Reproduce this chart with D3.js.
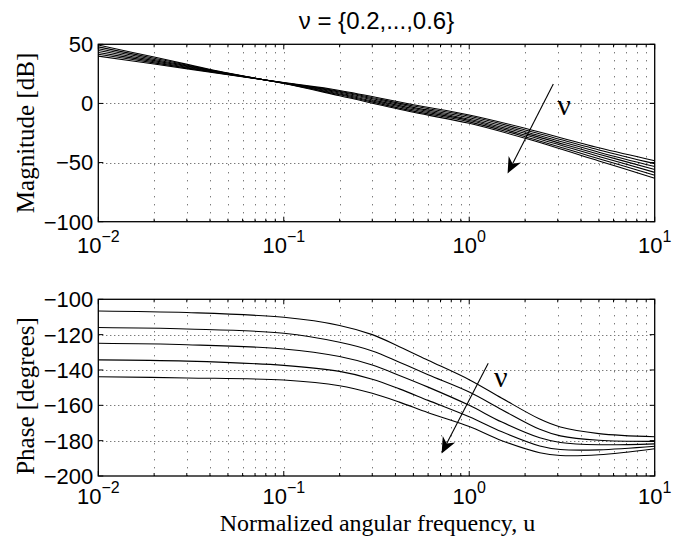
<!DOCTYPE html>
<html><head><meta charset="utf-8">
<script src="https://cdn.jsdelivr.net/npm/d3@7"></script>
<style>body{margin:0;background:#fff}</style>
</head><body>
<script>
// ---------- data ----------
const titleText = "ν = {0.2,...,0.6}";
const xTickExponents = [-2, -1, 0, 1];
const magTicks = [-100, -50, 0, 50];
const phaseTicks = [-200, -180, -160, -140, -120, -100];

const magFreq = [0.01, 0.02, 0.05, 0.1, 0.2, 0.5, 1, 2, 5, 10];
const mag1 = [40.0, 33.3, 24.3, 17.6, 11.0, -1.1, -9.8, -21.0, -37.5, -48.4];
const mag2 = [41.6, 34.3, 24.6, 17.5, 10.3, -2.2, -10.9, -22.4, -39.3, -50.9];
const mag3 = [43.1, 35.3, 24.8, 17.4, 9.6, -3.3, -12.1, -23.9, -41.2, -53.4];
const mag4 = [44.7, 36.2, 25.0, 17.3, 8.8, -4.3, -13.3, -25.3, -43.0, -55.8];
const mag5 = [46.3, 37.2, 25.2, 17.1, 8.0, -5.4, -14.4, -26.7, -44.8, -58.3];
const mag6 = [47.8, 38.2, 25.4, 17.0, 7.3, -6.5, -15.6, -28.1, -46.7, -60.8];
const mag7 = [49.4, 39.2, 25.6, 16.8, 6.5, -7.5, -16.8, -29.5, -48.6, -63.3];

const phaseFreq = [0.01, 0.03, 0.1, 0.2, 0.3, 0.42, 0.6, 1, 1.5, 2.4, 3.1, 5, 10];
const phase1 = [-106.6, -107.5, -110.2, -114.8, -120.0, -126.8, -134.5, -145.5, -156.0, -167.8, -172.3, -176.0, -177.8];
const phase2 = [-116.0, -116.8, -119.2, -124.3, -129.2, -135.6, -142.7, -152.5, -162.5, -173.6, -177.3, -179.8, -180.4];
const phase3 = [-124.9, -125.7, -128.1, -132.4, -137.2, -143.1, -149.7, -160.0, -169.5, -178.4, -181.0, -182.3, -181.8];
const phase4 = [-134.3, -135.0, -137.4, -140.8, -145.2, -150.7, -157.2, -166.5, -175.0, -183.0, -185.0, -185.2, -183.2];
const phase5 = [-143.8, -144.5, -145.7, -148.9, -153.2, -158.2, -164.2, -172.0, -180.0, -186.8, -188.4, -188.0, -184.6];

// annotations (data coordinates: [u, value])
const magArrow = [[2.84, 16.4], [1.61, -59.2]];
const magNuLabel = [3.24, -2.2];
const phaseArrow = [[1.266, -136.2], [0.71, -187.2]];
const phaseNuLabel = [1.48, -144.5];

// ---------- layout ----------
const W = 691, H = 542;
const L = 98.3, R = 654.7;
const topBox = [44.3, 221.7], botBox = [299.3, 476];
const sans = "'Liberation Sans', Arial, Helvetica, sans-serif";
const serif = "'Liberation Serif', 'Times New Roman', serif";

const svg = d3.select("body").append("svg").attr("width", W).attr("height", H)
  .style("font-family", sans);

const x = d3.scaleLog().domain([0.01, 10]).range([L, R]);
const yMag = d3.scaleLinear().domain([-100, 50]).range([topBox[1], topBox[0]]);
const yPh = d3.scaleLinear().domain([-200, -100]).range([botBox[1], botBox[0]]);

const minorTicks = [];
for (let e = -2; e < 1; e++) for (let k = 2; k <= 9; k++) minorTicks.push(k * Math.pow(10, e));
const majorX = xTickExponents.map(e => Math.pow(10, e));

function panel(y, yTicks, seriesFreq, series, box, labelDy) {
  const g = svg.append("g");
  // grid
  g.selectAll(".gv").data(minorTicks.concat(majorX.slice(1, -1))).enter().append("line")
    .attr("x1", d => Math.round(x(d)) + 0.5).attr("x2", d => Math.round(x(d)) + 0.5)
    .attr("y1", box[0]).attr("y2", box[1])
    .attr("stroke", "#444").attr("stroke-width", 1).attr("stroke-dasharray", "1,7");
  g.selectAll(".gh").data(yTicks.slice(1, -1)).enter().append("line")
    .attr("x1", L).attr("x2", R).attr("y1", d => Math.round(y(d)) + 0.5).attr("y2", d => Math.round(y(d)) + 0.5)
    .attr("stroke", "#444").attr("stroke-width", 1).attr("stroke-dasharray", "1,3");
  // curves
  const line = d3.line().x(d => x(d[0])).y(d => y(d[1])).curve(d3.curveCatmullRom.alpha(0.5));
  series.forEach(s => {
    g.append("path").attr("d", line(seriesFreq.map((f, i) => [f, s[i]])))
      .attr("fill", "none").attr("stroke", "#000").attr("stroke-width", 1.1);
  });
  // ticks inside box
  const tk = g.append("g").attr("stroke", "#000").attr("stroke-width", 1);
  majorX.forEach(d => {
    tk.append("line").attr("x1", x(d)).attr("x2", x(d)).attr("y1", box[1]).attr("y2", box[1] - 5);
    tk.append("line").attr("x1", x(d)).attr("x2", x(d)).attr("y1", box[0]).attr("y2", box[0] + 5);
  });
  minorTicks.forEach(d => {
    tk.append("line").attr("x1", x(d)).attr("x2", x(d)).attr("y1", box[1]).attr("y2", box[1] - 3);
    tk.append("line").attr("x1", x(d)).attr("x2", x(d)).attr("y1", box[0]).attr("y2", box[0] + 3);
  });
  yTicks.forEach(d => {
    tk.append("line").attr("x1", L).attr("x2", L + 5).attr("y1", y(d)).attr("y2", y(d));
    tk.append("line").attr("x1", R).attr("x2", R - 5).attr("y1", y(d)).attr("y2", y(d));
  });
  // box
  g.append("rect").attr("x", L).attr("y", box[0]).attr("width", R - L).attr("height", box[1] - box[0])
    .attr("fill", "none").attr("stroke", "#000").attr("stroke-width", 1.3);
  // y tick labels
  g.selectAll(".yl").data(yTicks).enter().append("text")
    .attr("x", L - 5).attr("y", d => y(d)).attr("dy", "0.36em").attr("text-anchor", "end")
    .attr("font-size", 22).text(d => d < 0 ? "−" + (-d) : d);
  // x tick labels
  xTickExponents.forEach(e => {
    const t = g.append("text").attr("x", x(Math.pow(10, e))).attr("y", box[1] + labelDy)
      .attr("text-anchor", "middle").attr("font-size", 22);
    t.append("tspan").text("10");
    t.append("tspan").attr("dy", -11).attr("font-size", 16).text(e < 0 ? "−" + (-e) : String(e));
  });
  return g;
}

function arrow(g, from, to, y) {
  const x1 = x(from[0]), y1 = y(from[1]), x2 = x(to[0]), y2 = y(to[1]);
  const dx = x2 - x1, dy = y2 - y1, len = Math.hypot(dx, dy);
  const ux = dx / len, uy = dy / len, px = -uy, py = ux;
  const hl = 16, hw = 7, nb = 11;
  g.append("line").attr("x1", x1).attr("y1", y1).attr("x2", x2 - ux * nb).attr("y2", y2 - uy * nb)
    .attr("stroke", "#000").attr("stroke-width", 1.1);
  const pts = [[x2, y2], [x2 - ux * hl + px * hw, y2 - uy * hl + py * hw],
    [x2 - ux * nb, y2 - uy * nb], [x2 - ux * hl - px * hw, y2 - uy * hl - py * hw]];
  g.append("polygon").attr("points", pts.map(p => p.join(",")).join(" ")).attr("fill", "#000");
}

const gTop = panel(yMag, magTicks, magFreq, [mag1, mag2, mag3, mag4, mag5, mag6, mag7], topBox, 31);
const gBot = panel(yPh, phaseTicks, phaseFreq, [phase1, phase2, phase3, phase4, phase5], botBox, 28);

arrow(gTop, magArrow[0], magArrow[1], yMag);
arrow(gBot, phaseArrow[0], phaseArrow[1], yPh);
gTop.append("text").attr("x", x(magNuLabel[0])).attr("y", yMag(magNuLabel[1])).attr("dy", "0.3em")
  .attr("text-anchor", "middle").attr("font-family", serif).attr("font-size", 30).text("ν");
gBot.append("text").attr("x", x(phaseNuLabel[0])).attr("y", yPh(phaseNuLabel[1])).attr("dy", "0.3em")
  .attr("text-anchor", "middle").attr("font-family", serif).attr("font-size", 30).text("ν");

// title and axis labels
svg.append("text").attr("x", (L + R) / 2).attr("y", 29).attr("text-anchor", "middle")
  .attr("font-size", 24).text(titleText);
svg.append("text").attr("transform", `translate(34,${(topBox[0] + topBox[1]) / 2}) rotate(-90)`)
  .attr("text-anchor", "middle").attr("font-family", serif).attr("font-size", 25).text("Magnitude [dB]");
svg.append("text").attr("transform", `translate(34,396) rotate(-90)`)
  .attr("text-anchor", "middle").attr("font-family", serif).attr("font-size", 25).text("Phase [degrees]");
svg.append("text").attr("x", 377.5).attr("y", 531).attr("text-anchor", "middle")
  .attr("font-family", serif).attr("font-size", 24).text("Normalized angular frequency, u");
</script>
</body></html>
